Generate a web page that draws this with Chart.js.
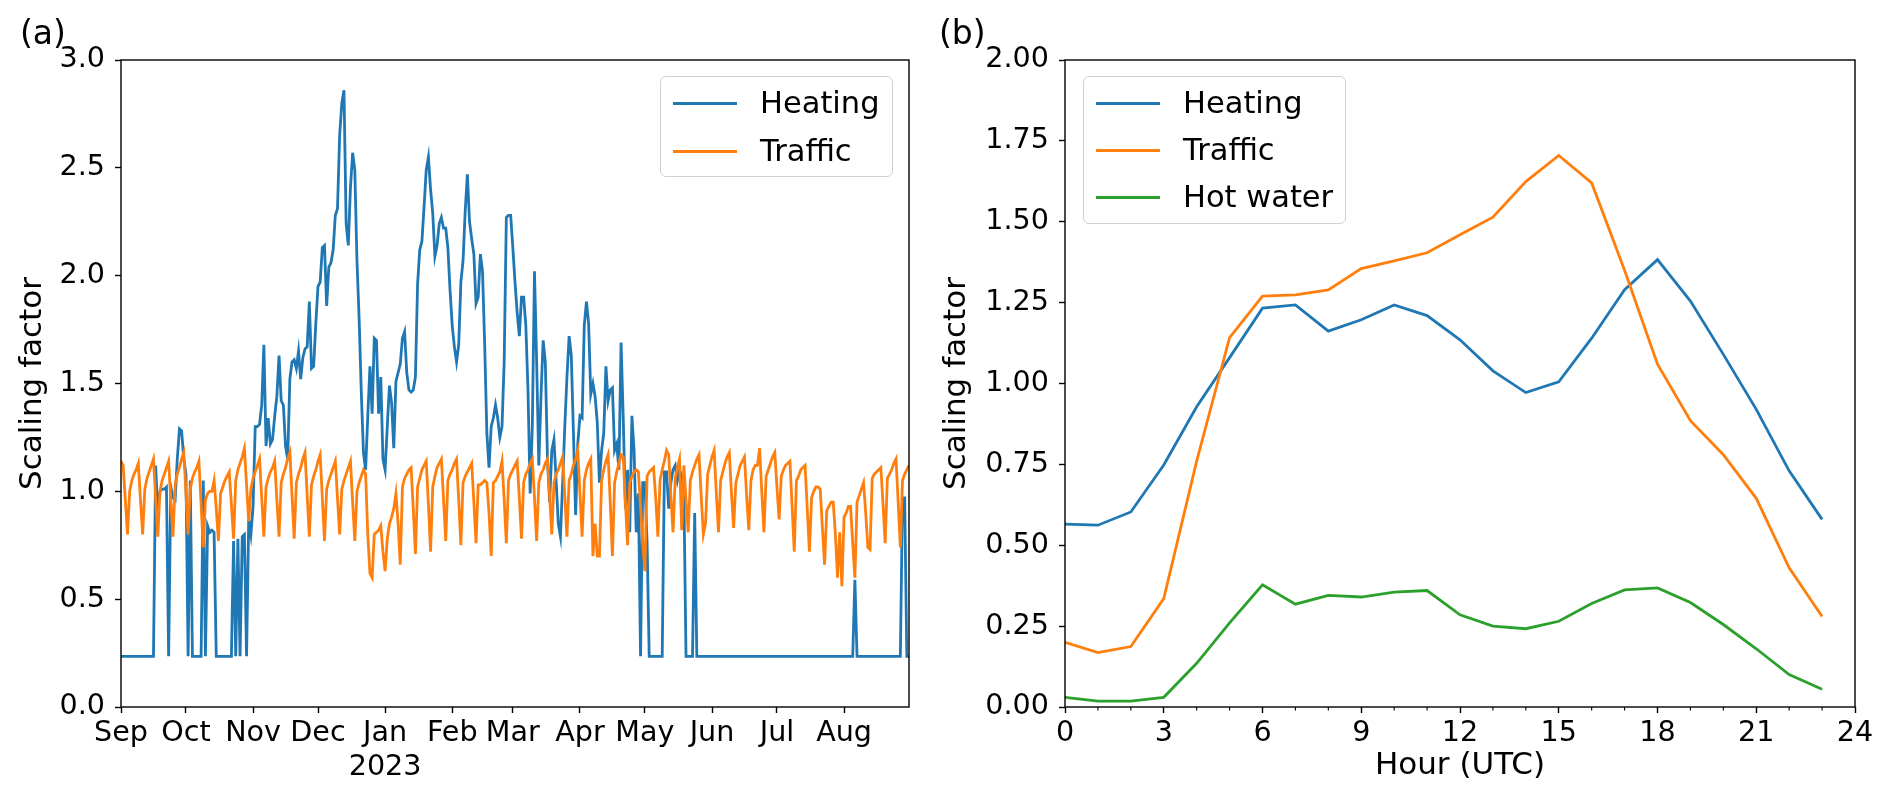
<!DOCTYPE html>
<html>
<head>
<meta charset="utf-8">
<script src="https://cdn.jsdelivr.net/npm/chart.js@4.4.1/dist/chart.umd.min.js"></script>
<style>
  html, body { margin: 0; padding: 0; background: #fff; }
  #page { position: relative; width: 1892px; height: 806px; overflow: hidden; font-family: 'DejaVu Sans', sans-serif; color: #000; }
  canvas { position: absolute; top: 0; }
  .tag { position: absolute; top: 14px; font-size: 33px; line-height: 38px; }
  .legend { position: absolute; box-sizing: border-box; border: 1.4px solid #d2d2d2; border-radius: 6px; background: rgba(255,255,255,0.8); }
  .legend .row { position: absolute; left: 0; right: 0; height: 40px; }
  .legend .swatch { position: absolute; left: 12px; top: 19px; width: 64px; height: 2.8px; }
  .legend .txt { position: absolute; left: 99px; top: 0; font-size: 30.5px; line-height: 40px; white-space: nowrap; }
</style>
</head>
<body>
<div id="page">
  <canvas id="daily" width="920" height="806" style="left:0px"></canvas>
  <canvas id="hourly" width="972" height="806" style="left:920px"></canvas>
  <div class="tag" style="left:20px">(a)</div>
  <div class="tag" style="left:939px">(b)</div>
</div>
<script>
// ---- (a) daily scaling factors, 2022-09-01 .. 2023-08-31 ----
const monthStart  = [0, 30, 61, 91, 122, 153, 181, 212, 242, 273, 303, 334];
const monthLabels = ['Sep', 'Oct', 'Nov', 'Dec', ['Jan', '2023'], 'Feb', 'Mar', 'Apr', 'May', 'Jun', 'Jul', 'Aug'];

const heatingDaily = [
  // Sep
  0.235, 0.235, 0.235, 0.235, 0.235, 0.235, 0.235, 0.235, 0.235, 0.235, 0.235, 0.235, 0.235, 0.235, 0.235, 0.235,
  1.12, 0.90, 1.00, 1.01, 1.01, 1.02, 0.235, 1.02, 0.97, 0.96, 1.15, 1.29, 1.28, 1.15,
  // Oct
  1.08, 0.235, 1.05, 0.235, 0.235, 0.235, 0.235, 0.235, 1.05, 0.235, 0.84, 0.81, 0.82, 0.81, 0.235, 0.235,
  0.235, 0.235, 0.235, 0.235, 0.235, 0.235, 0.77, 0.235, 0.78, 0.235, 0.79, 0.80, 0.235, 0.87, 0.80,
  // Nov
  0.93, 1.30, 1.30, 1.31, 1.40, 1.68, 1.21, 1.34, 1.22, 1.24, 1.35, 1.44, 1.63, 1.42, 1.40,
  1.21, 1.15, 1.52, 1.60, 1.61, 1.57, 1.65, 1.52, 1.62, 1.66, 1.67, 1.88, 1.57, 1.58, 1.78,
  // Dec
  1.95, 1.97, 2.13, 2.14, 1.86, 2.04, 2.06, 2.12, 2.28, 2.31, 2.65, 2.80, 2.86, 2.24, 2.14, 2.41,
  2.57, 2.49, 2.07, 1.80, 1.46, 1.18, 1.10, 1.35, 1.58, 1.36, 1.71, 1.70, 1.36, 1.53, 1.15,
  // Jan
  1.10, 1.30, 1.49, 1.41, 1.20, 1.51, 1.55, 1.59, 1.71, 1.74, 1.55, 1.47, 1.46, 1.47, 1.53, 1.96,
  2.12, 2.16, 2.32, 2.49, 2.55, 2.40, 2.29, 2.09, 2.14, 2.24, 2.27, 2.22, 2.22, 2.13, 1.93,
  // Feb
  1.77, 1.67, 1.60, 1.68, 1.97, 2.07, 2.30, 2.47, 2.25, 2.17, 2.10, 1.87, 1.90, 2.10,
  2.02, 1.68, 1.27, 1.11, 1.30, 1.34, 1.40, 1.34, 1.25, 1.30, 1.60, 2.27, 2.28, 2.28,
  // Mar
  2.13, 1.97, 1.83, 1.72, 1.90, 1.90, 1.77, 1.47, 0.99, 1.30, 2.02, 1.60, 1.12, 1.44, 1.70, 1.60,
  1.15, 0.95, 1.19, 1.24, 1.05, 0.85, 0.79, 1.04, 1.30, 1.53, 1.72, 1.63, 1.27, 0.89, 1.22,
  // Apr
  1.35, 1.34, 1.77, 1.88, 1.78, 1.45, 1.50, 1.44, 1.32, 1.04, 1.19, 1.27, 1.58, 1.42, 1.47,
  1.48, 1.19, 1.22, 1.10, 1.69, 1.34, 0.92, 1.10, 0.81, 1.35, 1.19, 0.81, 0.99, 0.235, 1.04,
  // May
  1.04, 0.77, 0.235, 0.235, 0.235, 0.235, 0.235, 0.235, 0.235, 1.09, 1.09, 0.92, 1.04, 1.10, 1.12, 1.05,
  1.10, 1.07, 1.00, 0.235, 0.235, 0.235, 0.235, 0.90, 0.235, 0.235, 0.235, 0.235, 0.235, 0.235, 0.235,
  // Jun
  0.235, 0.235, 0.235, 0.235, 0.235, 0.235, 0.235, 0.235, 0.235, 0.235, 0.235, 0.235, 0.235, 0.235, 0.235,
  0.235, 0.235, 0.235, 0.235, 0.235, 0.235, 0.235, 0.235, 0.235, 0.235, 0.235, 0.235, 0.235, 0.235, 0.235,
  // Jul
  0.235, 0.235, 0.235, 0.235, 0.235, 0.235, 0.235, 0.235, 0.235, 0.235, 0.235, 0.235, 0.235, 0.235, 0.235, 0.235,
  0.235, 0.235, 0.235, 0.235, 0.235, 0.235, 0.235, 0.235, 0.235, 0.235, 0.235, 0.235, 0.235, 0.235, 0.235,
  // Aug
  0.235, 0.235, 0.235, 0.235, 0.235, 0.59, 0.235, 0.235, 0.235, 0.235, 0.235, 0.235, 0.235, 0.235, 0.235, 0.235,
  0.235, 0.235, 0.235, 0.235, 0.235, 0.235, 0.235, 0.235, 0.235, 0.235, 0.235, 0.97, 0.97, 0.235, 0.235
];

const trafficDaily = [
  1.14, 1.12, 0.96, 0.80,                   // Thu 1 Sep .. Sun 4 Sep
  1.00, 1.05, 1.08, 1.10, 1.13, 0.96, 0.80,
  1.01, 1.06, 1.09, 1.12, 1.15, 0.97, 0.79,
  1.00, 1.05, 1.08, 1.11, 1.14, 0.96, 0.79,
  1.03, 1.08, 1.11, 1.15, 1.18, 0.99, 0.80,
  1.01, 1.06, 1.09, 1.11, 1.14, 0.94, 0.74,
  0.96, 0.99, 1.00, 1.00, 1.05, 0.92, 0.77,
  0.99, 1.02, 1.05, 1.07, 1.09, 0.94, 0.78,
  1.05, 1.10, 1.13, 1.16, 1.20, 1.03, 0.86,
  1.01, 1.06, 1.09, 1.12, 1.15, 0.97, 0.79,
  1.02, 1.06, 1.09, 1.11, 1.14, 0.96, 0.79,
  1.04, 1.08, 1.11, 1.15, 1.18, 0.98, 0.78,
  1.04, 1.08, 1.11, 1.15, 1.18, 0.98, 0.79,
  1.03, 1.07, 1.10, 1.14, 1.17, 0.97, 0.77,
  1.01, 1.05, 1.08, 1.11, 1.14, 0.97, 0.80,
  1.01, 1.05, 1.08, 1.11, 1.14, 0.95, 0.77,
  1.00, 1.04, 1.07, 1.10, 1.08, 0.80, 0.62,  // Christmas
  0.60, 0.80, 0.81, 0.82, 0.84, 0.72, 0.63,
  0.78, 0.85, 0.88, 0.92, 0.99, 0.85, 0.66,
  1.02, 1.06, 1.08, 1.10, 1.11, 0.92, 0.71,
  1.02, 1.06, 1.10, 1.12, 1.14, 0.94, 0.72,
  1.02, 1.07, 1.11, 1.13, 1.15, 0.96, 0.77,
  1.05, 1.08, 1.10, 1.13, 1.15, 0.96, 0.75,
  1.04, 1.07, 1.09, 1.11, 1.13, 0.95, 0.76,
  1.03, 1.03, 1.04, 1.05, 1.04, 0.90, 0.70,
  1.04, 1.05, 1.07, 1.09, 1.14, 0.96, 0.76,
  1.05, 1.08, 1.10, 1.12, 1.14, 0.97, 0.78,
  1.04, 1.08, 1.10, 1.13, 1.15, 0.97, 0.77,
  1.04, 1.08, 1.10, 1.13, 1.15, 0.98, 0.80,
  1.04, 1.08, 1.10, 1.13, 1.16, 0.98, 0.79,
  1.05, 1.08, 1.12, 1.15, 1.19, 0.99, 0.79,
  1.05, 1.10, 1.13, 1.15, 0.70, 0.85, 0.70,  // Easter
  0.70, 1.05, 1.10, 1.14, 1.17, 0.95, 0.70,
  1.04, 1.09, 1.13, 1.17, 1.16, 0.95, 0.75,
  1.04, 1.07, 1.09, 1.10, 1.09, 0.93, 0.76,
  0.63, 1.07, 1.09, 1.10, 1.11, 0.97, 0.79,
  1.05, 1.10, 1.14, 1.19, 1.17, 0.98, 0.81,
  1.06, 1.11, 1.15, 0.82, 1.12, 0.96, 0.81,
  1.05, 1.09, 1.12, 1.15, 1.17, 0.98, 0.80,
  0.85, 1.08, 1.12, 1.16, 1.19, 0.99, 0.81,
  1.05, 1.09, 1.13, 1.16, 1.18, 0.99, 0.83,
  1.04, 1.08, 1.12, 1.14, 1.16, 0.98, 0.82,
  1.05, 1.10, 1.12, 1.12, 1.20, 1.00, 0.81,
  1.07, 1.10, 1.13, 1.16, 1.18, 1.02, 0.87,
  1.07, 1.10, 1.12, 1.13, 1.14, 0.93, 0.72,
  1.05, 1.07, 1.10, 1.11, 1.12, 0.92, 0.72,
  0.97, 1.00, 1.02, 1.02, 1.01, 0.83, 0.66,
  0.91, 0.93, 0.95, 0.95, 0.80, 0.60, 0.81,
  0.56, 0.88, 0.90, 0.93, 0.93, 0.76, 0.60,
  0.95, 0.98, 1.01, 1.04, 0.90, 0.74, 0.73,
  1.06, 1.08, 1.09, 1.10, 1.11, 0.94, 0.76,
  1.06, 1.08, 1.10, 1.13, 1.15, 0.95, 0.74,
  1.05, 1.08, 1.10, 1.12
];

// ---- (b) hourly profiles ----
const hours = [0, 1, 2, 3, 4, 5, 6, 7, 8, 9, 10, 11, 12, 13, 14, 15, 16, 17, 18, 19, 20, 21, 22, 23];
const heatingHourly  = [0.565, 0.562, 0.603, 0.748, 0.928, 1.08, 1.233, 1.243, 1.162, 1.197, 1.243, 1.21,
                        1.135, 1.039, 0.972, 1.005, 1.14, 1.29, 1.383, 1.255, 1.09, 0.92, 0.73, 0.58];
const trafficHourly  = [0.20, 0.168, 0.187, 0.335, 0.76, 1.142, 1.27, 1.274, 1.289, 1.355, 1.379, 1.404,
                        1.46, 1.514, 1.624, 1.705, 1.62, 1.35, 1.06, 0.885, 0.78, 0.645, 0.43, 0.28];
const hotWaterHourly = [0.03, 0.018, 0.018, 0.03, 0.135, 0.26, 0.378, 0.318, 0.345, 0.34, 0.355, 0.36,
                        0.285, 0.25, 0.242, 0.265, 0.32, 0.362, 0.368, 0.323, 0.255, 0.18, 0.10, 0.055];

const BLUE = '#1f77b4', ORANGE = '#ff7f0e', GREEN = '#2ca02c';
const FS = 28.6;      // tick labels
const TITLE_FS = 31;  // axis titles

Chart.defaults.font.family = "'DejaVu Sans', sans-serif";
Chart.defaults.font.size = FS;
Chart.defaults.color = '#000';

const frame = {
  id: 'frame',
  afterDatasetsDraw(chart) {
    const { ctx, chartArea: a } = chart;
    ctx.save();
    ctx.strokeStyle = '#000';
    ctx.lineWidth = 1.4;
    ctx.strokeRect(a.left, a.top, a.right - a.left, a.bottom - a.top);
    ctx.restore();
  }
};

const minorTicks = {
  id: 'minorTicks',
  afterDraw(chart) {
    const s = chart.scales.x, ctx = chart.ctx;
    ctx.save();
    ctx.strokeStyle = '#000';
    ctx.lineWidth = 1.1;
    ctx.beginPath();
    for (let h = 0; h <= 24; h++) {
      if (h % 3 === 0) continue;
      const px = s.getPixelForValue(h);
      ctx.moveTo(px, s.top);
      ctx.lineTo(px, s.top + 3.5);
    }
    ctx.stroke();
    ctx.restore();
  }
};

const tickGrid = { drawOnChartArea: false, drawTicks: true, tickLength: 6, tickWidth: 1.4, tickColor: '#000' };

function line(label, xs, ys, color, order) {
  return {
    label: label,
    data: ys.map((v, i) => ({ x: xs[i], y: v })),
    borderColor: color,
    backgroundColor: color,
    borderWidth: 2.8,
    pointRadius: 0,
    tension: 0,
    order: order
  };
}

const dayIdx = trafficDaily.map((v, i) => i);

let dailyChart = new Chart(document.getElementById('daily'), {
  type: 'line',
  data: {
    datasets: [
      line('Heating', dayIdx, heatingDaily, BLUE, 1),
      line('Traffic', dayIdx, trafficDaily, ORANGE, 0)
    ]
  },
  options: {
    responsive: false,
    animation: false,
    layout: { padding: { left: 0, right: 11, top: 60, bottom: 0 } },
    plugins: { legend: { display: false }, tooltip: { enabled: false } },
    scales: {
      x: {
        type: 'linear', min: 0, max: 364,
        afterBuildTicks: s => { s.ticks = monthStart.map(v => ({ value: v })); },
        ticks: { autoSkip: false, maxRotation: 0, padding: 3, callback: (v, i) => monthLabels[i] },
        grid: tickGrid,
        border: { display: false },
        afterFit: s => { s.height = 99; }
      },
      y: {
        min: 0, max: 3,
        ticks: { stepSize: 0.5, padding: 10, callback: v => v.toFixed(1) },
        title: { display: true, text: 'Scaling factor', font: { size: TITLE_FS }, padding: { top: 14, bottom: 0 } },
        grid: tickGrid,
        border: { display: false },
        afterFit: s => { s.width = 121; }
      }
    }
  },
  plugins: [frame]
});

let hourlyChart = new Chart(document.getElementById('hourly'), {
  type: 'line',
  data: {
    datasets: [
      line('Heating', hours, heatingHourly, BLUE, 2),
      line('Traffic', hours, trafficHourly, ORANGE, 1),
      line('Hot water', hours, hotWaterHourly, GREEN, 0)
    ]
  },
  options: {
    responsive: false,
    animation: false,
    layout: { padding: { left: 0, right: 37, top: 60, bottom: 0 } },
    plugins: { legend: { display: false }, tooltip: { enabled: false } },
    scales: {
      x: {
        type: 'linear', min: 0, max: 24,
        ticks: { stepSize: 3, autoSkip: false, maxRotation: 0, padding: 3 },
        title: { display: true, text: 'Hour (UTC)', font: { size: TITLE_FS }, padding: { top: 0, bottom: 21 } },
        grid: tickGrid,
        border: { display: false },
        afterFit: s => { s.height = 99; }
      },
      y: {
        min: 0, max: 2,
        ticks: { stepSize: 0.25, padding: 10, callback: v => v.toFixed(2) },
        title: { display: true, text: 'Scaling factor', font: { size: TITLE_FS }, padding: { top: 18, bottom: 0 } },
        grid: tickGrid,
        border: { display: false },
        afterFit: s => { s.width = 145; }
      }
    }
  },
  plugins: [frame, minorTicks]
});

// matplotlib-style legends placed inside the axes
function addLegend(chart, box) {
  const div = document.createElement('div');
  div.className = 'legend';
  div.style.left = box.left + 'px';
  div.style.top = box.top + 'px';
  div.style.width = box.width + 'px';
  div.style.height = box.height + 'px';
  chart.data.datasets.forEach((ds, i) => {
    const row = document.createElement('div');
    row.className = 'row';
    row.style.top = (box.first + i * box.pitch - 20) + 'px';
    const sw = document.createElement('span');
    sw.className = 'swatch';
    sw.style.background = ds.borderColor;
    const tx = document.createElement('span');
    tx.className = 'txt';
    tx.textContent = ds.label;
    row.appendChild(sw);
    row.appendChild(tx);
    div.appendChild(row);
  });
  document.getElementById('page').appendChild(div);
}

addLegend(dailyChart,  { left: 660,  top: 76, width: 233, height: 101, first: 26, pitch: 48 });
addLegend(hourlyChart, { left: 1083, top: 76, width: 263, height: 148, first: 26, pitch: 47 });
</script>
</body>
</html>
